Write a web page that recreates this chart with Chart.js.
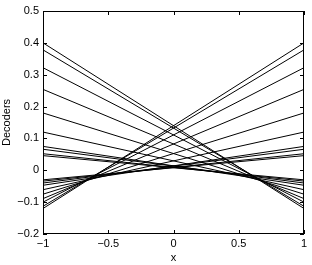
<!DOCTYPE html>
<html><head><meta charset="utf-8">
<script src="https://cdn.jsdelivr.net/npm/chart.js@4"></script>
<style>html,body{margin:0;padding:0;background:#fff}#w{width:312px;height:265px}</style>
</head><body><div id="w"><canvas id="c" width="312" height="265"></canvas></div>
<script>
const xEnds = [-1, 1];
const leftValues  = [0.400, 0.378, 0.322, 0.254, 0.180, 0.120, 0.075, 0.066, 0.052, 0.046];
const rightValues = [-0.120, -0.113, -0.100, -0.089, -0.075, -0.061, -0.047, -0.040, -0.034, -0.030];
const xTicks = [-1, -0.5, 0, 0.5, 1];
const yTicks = [-0.2, -0.1, 0, 0.1, 0.2, 0.3, 0.4, 0.5];

const datasets = [];
leftValues.forEach((a, i) => {
  const b = rightValues[i];
  datasets.push({data: [{x: xEnds[0], y: a}, {x: xEnds[1], y: b}]});
  datasets.push({data: [{x: xEnds[0], y: b}, {x: xEnds[1], y: a}]});
});
datasets.forEach(d => Object.assign(d, {borderColor: '#000', borderWidth: 1, pointRadius: 0, fill: false, tension: 0}));

const fmt = v => { const s = String(Number(v.toFixed(2))); return s.replace('-', '\u2212'); };

const boxPlugin = {
  id: 'box',
  afterDraw(chart) {
    const {ctx, chartArea: a, scales} = chart;
    ctx.save();
    ctx.strokeStyle = '#000';
    ctx.lineWidth = 1;
    ctx.strokeRect(Math.round(a.left) + 0.5, Math.round(a.top) + 0.5, Math.round(a.right - a.left) - 1, Math.round(a.bottom - a.top) - 1);
    const L = 4;
    ctx.beginPath();
    xTicks.forEach(v => {
      const px = Math.round(scales.x.getPixelForValue(v)) + 0.5;
      ctx.moveTo(px, a.bottom); ctx.lineTo(px, a.bottom - L);
      ctx.moveTo(px, a.top); ctx.lineTo(px, a.top + L);
    });
    yTicks.forEach(v => {
      const py = Math.round(scales.y.getPixelForValue(v)) + 0.5;
      ctx.moveTo(a.left, py); ctx.lineTo(a.left + L, py);
      ctx.moveTo(a.right, py); ctx.lineTo(a.right - L, py);
    });
    ctx.stroke();
    ctx.restore();
  }
};

new Chart(document.getElementById('c'), {
  type: 'line',
  data: {datasets},
  plugins: [boxPlugin],
  options: {
    responsive: false, animation: false,
    layout: {padding: {top: 11, right: 8, left: 0, bottom: 0}},
    plugins: {legend: {display: false}, tooltip: {enabled: false}},
    scales: {
      x: {
        type: 'linear', min: -1, max: 1,
        afterBuildTicks: s => { s.ticks = xTicks.map(v => ({value: v})); },
        afterFit: s => { s.height = 31; },
        grid: {display: false, drawTicks: false},
        border: {display: false},
        ticks: {color: '#000', padding: 3, font: {family: 'Liberation Sans', size: 11}, callback: fmt, maxRotation: 0, autoSkip: false},
        title: {display: true, text: 'x', color: '#000', padding: {top: 0, bottom: 0}, font: {family: 'Liberation Sans', size: 11}}
      },
      y: {
        type: 'linear', min: -0.2, max: 0.5,
        afterBuildTicks: s => { s.ticks = yTicks.map(v => ({value: v})); },
        afterFit: s => { s.width = 43; },
        grid: {display: false, drawTicks: false},
        border: {display: false},
        ticks: {color: '#000', padding: 4, font: {family: 'Liberation Sans', size: 11}, callback: fmt, autoSkip: false},
        title: {display: true, text: 'Decoders', color: '#000', padding: {top: 0, bottom: 0}, font: {family: 'Liberation Sans', size: 11}}
      }
    }
  }
});
</script>
</body></html>
